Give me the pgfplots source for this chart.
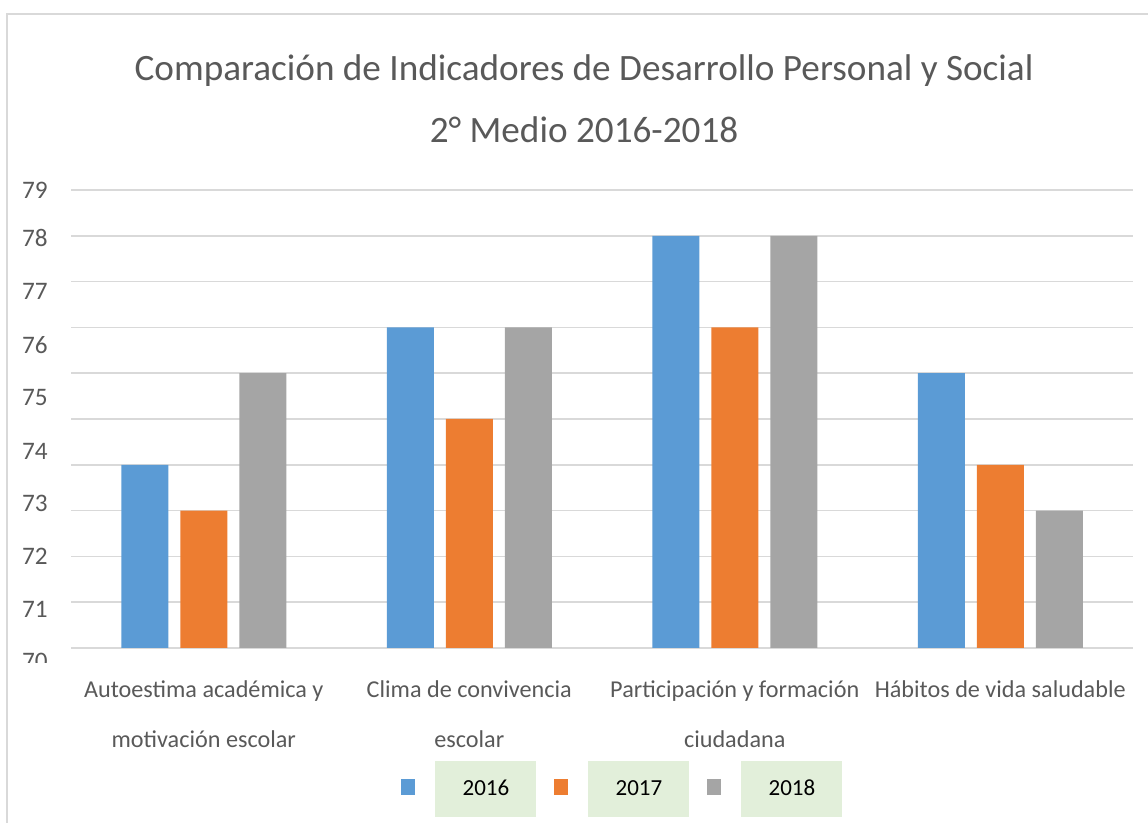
\documentclass[border=0pt]{standalone}
\usepackage{fontspec}
\setmainfont{Carlito}
\usepackage{pgfplots}
\pgfplotsset{compat=1.18}
\definecolor{txt}{HTML}{595959}
\definecolor{c16}{HTML}{5B9BD5}
\definecolor{c17}{HTML}{ED7D31}
\definecolor{c18}{HTML}{A5A5A5}
\definecolor{grd}{HTML}{D9D9D9}
\definecolor{lgreen}{HTML}{E2EFDA}
\newcommand{\lbox}[1]{{\setlength{\fboxsep}{0pt}\colorbox{lgreen}{\makebox[50.5pt]{\rule[-10.5pt]{0pt}{28pt}#1}}}}
\begin{document}
\begin{tikzpicture}
\useasboundingbox (0,0) rectangle (574pt,411.5pt);
\draw[grd, line width=1pt] (3.5pt,0) -- (3.5pt,404.5pt) -- (574pt,404.5pt);
\begin{axis}[
  at={(35.5pt,87.5pt)}, anchor=south west,
  scale only axis, width=531pt, height=229pt,
  ybar=6pt, bar width=23.5pt,
  xmin=-0.5, xmax=3.5, ymin=70, ymax=80,
  axis x line*=bottom, axis y line*=left, axis line style={draw=none},
  major tick length=0pt,
  xtick={0,1,2,3},
  xticklabels={{\strut Autoestima académica y\\motivación escolar},{\strut Clima de convivencia\\escolar},{\strut Participación y formación\\ciudadana},{\strut Hábitos de vida saludable}},
  xticklabel style={align=center, font=\fontsize{12.1}{25}\selectfont, text=txt, inner sep=0pt, anchor=north, yshift=-7pt},
  ytick={70,70.85,72.01,73.15,74.29,75.48,76.62,77.78,78.95,80},
  yticklabels={\raisebox{-6.5pt}[\height][\depth]{70},71,72,73,74,75,76,77,78,79},
  yticklabel style={font=\fontsize{12.6}{14}\selectfont, text=txt, inner sep=0pt, anchor=east, xshift=-11.5pt},
  /pgf/number format/assume math mode=true,
  extra y ticks={70,71,...,80},
  extra y tick labels={},
  extra y tick style={grid=major, major grid style={grd, line width=0.75pt}},
  title={Comparación de Indicadores de Desarrollo Personal y Social\\2° Medio 2016-2018},
  title style={font=\fontsize{18.6}{31}\selectfont, text=txt, align=center, inner sep=0pt, anchor=south, at={(axis description cs:0.4831,1)}, yshift=17.5pt},
  legend columns=3,
  legend style={at={(axis description cs:0.5188,-0.2882)}, anchor=center, draw=none, fill=none, inner sep=0pt, column sep=10pt, /tikz/every even column/.append style={column sep=9pt}, nodes={inner sep=0pt, font=\fontsize{11.5}{14}\selectfont, text=black}},
  legend image code/.code={\draw[#1, draw=none] (0pt,-7.5pt) rectangle (7pt,0.5pt);},
]
\addplot[fill=c16, draw=none] coordinates {(0,74) (1,77) (2,79) (3,76)};
\addlegendentry{\lbox{2016}}
\addplot[fill=c17, draw=none] coordinates {(0,73) (1,75) (2,77) (3,74)};
\addlegendentry{\lbox{2017}}
\addplot[fill=c18, draw=none] coordinates {(0,76) (1,77) (2,79) (3,73)};
\addlegendentry{\lbox{2018}}
\end{axis}
\fill[white] (5pt,60pt) rectangle (33pt,80pt);
\end{tikzpicture}
\end{document}
